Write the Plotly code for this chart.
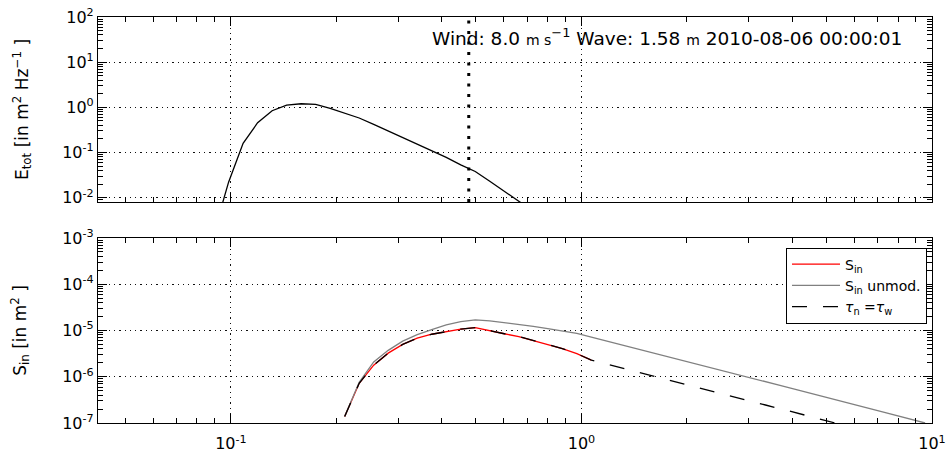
import math
import plotly.graph_objects as go

# ---------------- data ----------------
# frequency grid [Hz]
freq_etot = [0.08954, 0.09849, 0.10834, 0.11918, 0.13109, 0.14420, 0.15862, 0.17448,
             0.19193, 0.21113, 0.23224, 0.25546, 0.28101, 0.30910, 0.34002, 0.37402,
             0.41142, 0.45257, 0.49782, 0.54760, 0.60236, 0.66260, 0.72886]
etot = [0.0017, 0.022, 0.16, 0.456, 0.84, 1.12, 1.20, 1.16,
        0.95, 0.75, 0.58, 0.42, 0.30, 0.217, 0.154, 0.110,
        0.078, 0.053, 0.038, 0.023, 0.0138, 0.0083, 0.0050]

freq_sin = [0.21113, 0.23224, 0.25546, 0.28101, 0.30910, 0.34002, 0.37402, 0.41142,
            0.45257, 0.49782, 0.54760, 0.60236, 0.66260, 0.72886, 0.80175, 0.88192,
            0.97011, 1.06713]
sin_mod = [1.38e-7, 7.2e-7, 1.78e-6, 3.24e-6, 5.0e-6, 6.8e-6, 8.3e-6, 9.5e-6,
           1.07e-5, 1.15e-5, 9.8e-6, 8.5e-6, 7.4e-6, 6.0e-6, 5.0e-6, 4.07e-6,
           3.16e-6, 2.29e-6]

freq_full = [0.21113, 0.23224, 0.25546, 0.28101, 0.30910, 0.34002, 0.37402, 0.41142,
             0.45257, 0.49782, 0.54760, 0.60236, 0.66260, 0.72886, 0.80175, 0.88192,
             0.97011, 1.06713, 1.17384, 1.29122, 1.42034, 1.56238, 1.71862, 1.89048,
             2.07953, 2.28748, 2.51623, 2.76785, 3.04464, 3.34910, 3.68401, 4.05241,
             4.45765, 4.90342, 5.39376, 5.93313, 6.52645, 7.17909, 7.89700, 8.68670,
             9.55537]
sin_unmod = [1.38e-7, 7.6e-7, 2.09e-6, 3.72e-6, 5.9e-6, 8.1e-6, 1.05e-5, 1.32e-5,
             1.55e-5, 1.70e-5, 1.62e-5, 1.48e-5, 1.38e-5, 1.23e-5, 1.10e-5, 9.8e-6,
             8.7e-6, 7.2e-6, 6.0e-6, 5.0e-6, 4.15e-6, 3.45e-6, 2.86e-6, 2.37e-6,
             1.97e-6, 1.64e-6, 1.36e-6, 1.13e-6, 9.4e-7, 7.8e-7, 6.5e-7, 5.4e-7,
             4.45e-7, 3.7e-7, 3.07e-7, 2.55e-7, 2.12e-7, 1.76e-7, 1.46e-7, 1.21e-7,
             1.0e-7]
sin_taun = [1.38e-7, 7.2e-7, 1.78e-6, 3.24e-6, 5.0e-6, 6.8e-6, 8.3e-6, 9.5e-6,
            1.07e-5, 1.15e-5, 9.8e-6, 8.5e-6, 7.4e-6, 6.0e-6, 5.0e-6, 4.07e-6,
            3.16e-6, 2.29e-6, 1.91e-6, 1.58e-6, 1.32e-6, 1.10e-6, 9.1e-7, 7.5e-7,
            6.2e-7, 5.2e-7, 4.3e-7, 3.6e-7, 2.95e-7, 2.45e-7, 2.04e-7, 1.70e-7,
            1.40e-7, 1.16e-7, 9.7e-8, 8.0e-8, 6.7e-8, 5.5e-8, 4.6e-8, 3.8e-8,
            3.15e-8]

peak_freq = 0.477
wind_speed = "8.0"
wave_height = "1.58"
timestamp = "2010-08-06 00:00:01"

x_range = [0.04177, 10]
etot_range = [0.008, 100]
sin_range = [1e-7, 1e-3]

x_tickvals = [0.1, 1, 10]
x_ticktext = ["10<sup>-1</sup>", "10<sup>0</sup>", "10<sup>1</sup>"]
etot_tickvals = [0.01, 0.1, 1, 10, 100]
etot_ticktext = ["10<sup>-2</sup>", "10<sup>-1</sup>", "10<sup>0</sup>", "10<sup>1</sup>", "10<sup>2</sup>"]
sin_tickvals = [1e-7, 1e-6, 1e-5, 1e-4, 1e-3]
sin_ticktext = ["10<sup>-7</sup>", "10<sup>-6</sup>", "10<sup>-5</sup>", "10<sup>-4</sup>", "10<sup>-3</sup>"]

# ---------------- figure ----------------
FONT = "DejaVu Sans"
fig = go.Figure()

fig.add_trace(go.Scatter(x=freq_etot, y=etot, mode="lines", line=dict(color="black", width=1.3),
                         xaxis="x", yaxis="y", showlegend=False, cliponaxis=True))

fig.add_trace(go.Scatter(x=freq_sin, y=sin_mod, mode="lines", name="S<sub>in</sub>",
                         line=dict(color="#ff0000", width=1.3), xaxis="x2", yaxis="y2"))
fig.add_trace(go.Scatter(x=freq_full, y=sin_unmod, mode="lines", name="S<sub>in</sub> unmod.",
                         line=dict(color="#808080", width=1.3), xaxis="x2", yaxis="y2"))
fig.add_trace(go.Scatter(x=freq_full, y=sin_taun, mode="lines",
                         name="<i>τ</i><sub>n</sub> =<i>τ</i><sub>w</sub>",
                         line=dict(color="black", width=1.3, dash="15px,16px"), xaxis="x2", yaxis="y2"))

fig.add_shape(type="line", xref="x", yref="y domain", x0=peak_freq, x1=peak_freq, y0=0, y1=1,
              line=dict(color="black", width=3, dash="3px,7.5px"), layer="above")


def minor_vals(lo, hi):
    return [k * 10 ** e for e in range(lo, hi) for k in range(2, 10)]


common_axis = dict(
    showline=True, linecolor="black", linewidth=1.2, mirror="allticks",
    ticks="inside", ticklen=9, tickwidth=1, tickcolor="black",
    showgrid=True, gridcolor="#111111", gridwidth=1, griddash="1.3px,4px",
    zeroline=False, tickfont=dict(family=FONT, size=16, color="black"),
    automargin=False,
)

xaxis_common = dict(common_axis, type="log", range=[math.log10(x_range[0]), math.log10(x_range[1])],
                    tickmode="array", tickvals=x_tickvals,
                    minor=dict(tickmode="array", tickvals=minor_vals(-2, 1), ticks="inside",
                               ticklen=5, tickcolor="black", showgrid=False))

fig.update_layout(
    width=946, height=454,
    margin=dict(l=98, r=14, t=17, b=31, autoexpand=False),
    paper_bgcolor="white", plot_bgcolor="white",
    font=dict(family=FONT, size=16, color="black"),
    xaxis=dict(xaxis_common, domain=[0, 1], anchor="y", showticklabels=False, ticktext=x_ticktext),
    yaxis=dict(common_axis, type="log", domain=[0.5443, 1], anchor="x",
               range=[math.log10(etot_range[0]), math.log10(etot_range[1])],
               tickmode="array", tickvals=etot_tickvals, ticktext=etot_ticktext,
               ticklabelstandoff=0,
               minor=dict(tickmode="array", tickvals=minor_vals(-3, 2), ticks="inside",
                          ticklen=5, tickcolor="black", showgrid=False),
               title=dict(text="E<sub>tot</sub> [in m<sup>2</sup> Hz<sup>−1</sup> ]",
                          font=dict(family=FONT, size=17), standoff=29)),
    xaxis2=dict(xaxis_common, domain=[0, 1], anchor="y2", ticktext=x_ticktext, ticklabelstandoff=6),
    yaxis2=dict(common_axis, type="log", domain=[0, 0.4557], anchor="x2",
                range=[math.log10(sin_range[0]), math.log10(sin_range[1])],
                tickmode="array", tickvals=sin_tickvals, ticktext=sin_ticktext,
                ticklabelstandoff=0,
                minor=dict(tickmode="array", tickvals=minor_vals(-8, -3), ticks="inside",
                           ticklen=5, tickcolor="black", showgrid=False),
                title=dict(text="S<sub>in</sub> [in m<sup>2</sup> ]",
                           font=dict(family=FONT, size=17), standoff=31)),
    legend=dict(x=0.994, y=0.432, xanchor="right", yanchor="top",
                bordercolor="black", borderwidth=1, bgcolor="white", itemwidth=48,
                font=dict(family=FONT, size=14, color="black")),
    showlegend=True,
)

fig.add_annotation(
    xref="x domain", yref="y domain", x=0.967, y=0.892, xanchor="right", yanchor="middle",
    text=(f"Wind: {wind_speed} <span style='font-size:14px'>m s</span><sup>−1</sup> "
          f"Wave: {wave_height} <span style='font-size:14px'>m</span> {timestamp}"),
    showarrow=False, font=dict(family=FONT, size=18.5, color="black"),
)

fig.write_html("out.html")
